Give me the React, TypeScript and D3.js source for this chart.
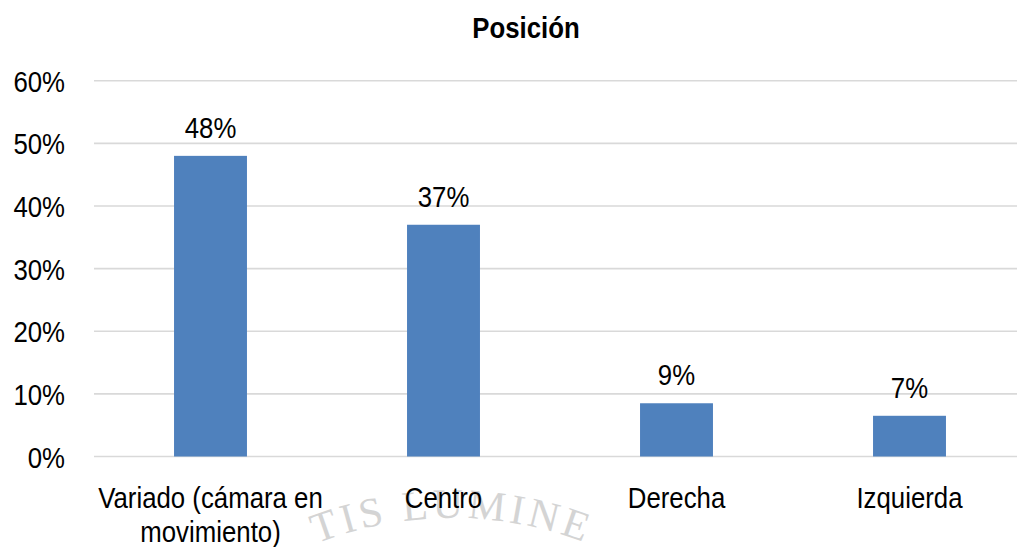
import React from "react";
import * as d3 from "d3";

const categories: string[][] = [
  ["Variado (cámara en", "movimiento)"],
  ["Centro"],
  ["Derecha"],
  ["Izquierda"],
];
const values: number[] = [48, 37, 8.5, 6.5];
const yTicks: number[] = [0, 10, 20, 30, 40, 50, 60];
const title = "Posición";
const watermark = "TIS LUMINE";

const W = 1017;
const H = 547;
const FONT = "'Liberation Sans', Arial, sans-serif";
const SX = 0.86;

function T(props: {
  x: number;
  y: number;
  anchor?: string;
  size?: number;
  weight?: string;
  children: React.ReactNode;
}) {
  const { x, y, anchor = "middle", size = 30, weight = "normal", children } = props;
  return (
    <text
      transform={`translate(${x},${y}) scale(${SX},1)`}
      textAnchor={anchor}
      fontFamily={FONT}
      fontSize={size}
      fontWeight={weight}
      fill="#000"
    >
      {children}
    </text>
  );
}

export default function App() {
  const idx = categories.map((_, i) => String(i));
  const x = d3
    .scaleBand<string>()
    .domain(idx)
    .range([94, 1026])
    .paddingInner(0.687)
    .paddingOuter(0.3435);
  const y = d3.scaleLinear().domain([0, 60]).range([456.5, 80.7]);

  // watermark arc
  const cx = 452;
  const cy = 888;
  const r = 370;
  const arc = d3.path();
  arc.arc(cx, cy, r, (-150 * Math.PI) / 180, (-30 * Math.PI) / 180);

  return (
    <svg
      width={W}
      height={H}
      style={{ position: "absolute", left: 0, top: 0, background: "#fff" }}
    >
      <rect width={W} height={H} fill="#fff" />
      <defs>
        <path id="wm" d={arc.toString()} />
      </defs>
      <text
        fontFamily="'Liberation Serif', 'DejaVu Serif', serif"
        fontSize={42}
        fill="#d4d4d4"
        letterSpacing={4}
      >
        <textPath href="#wm" startOffset="50%" textAnchor="middle">
          {watermark}
        </textPath>
      </text>

      {yTicks.map((t) => (
        <g key={t}>
          <line
            x1={94}
            x2={W}
            y1={y(t)}
            y2={y(t)}
            stroke="#d9d9d9"
            strokeWidth={1.6}
          />
          <T x={65} y={y(t) + 11} anchor="end">
            {`${t}%`}
          </T>
        </g>
      ))}

      {values.map((v, i) => (
        <g key={i}>
          <rect
            x={x(String(i))!}
            y={y(v)}
            width={x.bandwidth()}
            height={y(0) - y(v)}
            fill="#4f81bd"
          />
          <T x={x(String(i))! + x.bandwidth() / 2} y={y(v) - 18}>
            {`${Math.round(v)}%`}
          </T>
        </g>
      ))}

      {categories.map((lines, i) =>
        lines.map((ln, j) => (
          <T
            key={`${i}-${j}`}
            x={x(String(i))! + x.bandwidth() / 2}
            y={508 + j * 34}
          >
            {ln}
          </T>
        ))
      )}

      <T x={526} y={38} weight="bold">
        {title}
      </T>
    </svg>
  );
}
